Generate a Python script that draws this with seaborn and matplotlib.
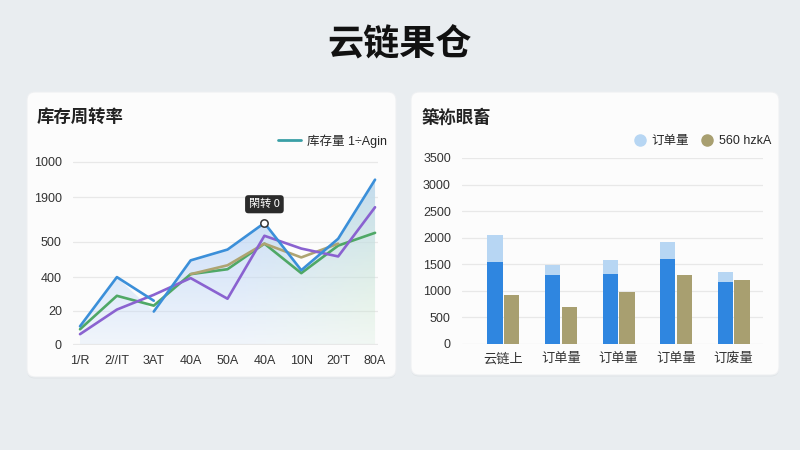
import numpy as np
import pandas as pd
import matplotlib
matplotlib.use("Agg")
import matplotlib.pyplot as plt
import seaborn as sns
from matplotlib.patches import FancyBboxPatch, Polygon
from matplotlib.lines import Line2D

# ---------------- data ----------------
title_text = "云链果仓"
left_title = "库存周转率"
right_title = "築袮眼畜"

x_labels = ["1/R", "2//IT", "3AT", "40A", "50A", "40A", "10N", "20'T", "80A"]
y_tick_pos = [0, 34, 68, 104, 149, 185]
y_tick_labels = ["0", "20", "400", "500", "1900", "1000"]

blue_a = [18, 68, 44]                          # indices 0..2
blue_b = [33, 85, 96, 123, 75, 107, 167]       # indices 2..8
green = [15, 49, 39, 71, 76, 102, 72, 100, 113]
olive = [71, 80, 102, 88, 102]                 # indices 3..7
purple = [10, 35, 50, 67, 46, 110, 97, 89, 139]
left_legend = "库存量 1÷Agin"
tooltip_text = "閑转 0"

bar_cats = ["云链上", "订单量", "订单量", "订单量", "订废量"]
bar_base = [1540, 1300, 1320, 1600, 1160]
bar_total = [2050, 1480, 1580, 1920, 1360]
bar_olive = [930, 700, 970, 1300, 1210]
right_legend = ["订单量", "560 hzkA"]

# ---------------- style ----------------
sns.set_theme(style="whitegrid")
LATIN = ["Liberation Sans", "Noto Sans CJK SC", "DejaVu Sans"]
CJK = ["Noto Sans CJK SC", "DejaVu Sans"]
plt.rcParams["font.family"] = LATIN

BG = "#e9edf0"
C_BLUE = "#3b8fd9"
C_GREEN = "#4fa866"
C_OLIVE = "#aea472"
C_PURPLE = "#8a62d0"
C_BAR = "#2f86e0"
C_BAR_LIGHT = "#b7d6f3"
C_BAR_OLIVE = "#a89f70"
C_TEXT = "#222222"

fig = plt.figure(figsize=(8, 4.5), dpi=100, facecolor=BG)

bg = fig.add_axes([0, 0, 1, 1], zorder=-5)
bg.set_xlim(0, 800)
bg.set_ylim(450, 0)
bg.axis("off")

for (x0, y0, x1, y1) in [(27, 92, 396, 377), (411, 92, 779, 375)]:
    sh = FancyBboxPatch((x0, y0 + 1.5), x1 - x0, y1 - y0,
                        boxstyle="round,pad=0,rounding_size=8",
                        fc="#d9dee2", ec="none", alpha=0.6)
    bg.add_patch(sh)
    card = FancyBboxPatch((x0, y0), x1 - x0, y1 - y0,
                          boxstyle="round,pad=0,rounding_size=8",
                          fc="#fcfcfc", ec="#eef0f2", lw=0.8)
    bg.add_patch(card)

fig.text(0.5, 1 - 45 / 450, title_text, ha="center", va="center",
         fontsize=26, fontweight="heavy", color="#111111", family=CJK)
fig.text(37 / 800, 1 - 117 / 450, left_title, ha="left", va="center",
         fontsize=12.5, fontweight="bold", color=C_TEXT, family=CJK)
fig.text(422 / 800, 1 - 118 / 450, right_title, ha="left", va="center",
         fontsize=12.5, fontweight="bold", color=C_TEXT, family=CJK)

# ---------------- left chart ----------------
axL = fig.add_axes([73 / 800, (450 - 345) / 450, 305 / 800, 185 / 450])
axL.set_facecolor("none")
n = len(x_labels)
idx = np.arange(n)

# gradient fill under the blue line
fill_y = blue_a[:2] + blue_b
xmin, xmax = -0.19, 8.08
grad_h, grad_w = 200, 300
yy = np.linspace(1, 0, grad_h)[:, None]
xx = np.linspace(0, 1, grad_w)[None, :]
blue_c = np.array([0.76, 0.85, 0.97])
green_c = np.array([0.78, 0.90, 0.81])
mix = np.clip((xx - 0.55) / 0.45, 0, 1) * np.clip(1.2 - yy, 0, 1)
rgb = blue_c[None, None, :] * (1 - mix[..., None]) + green_c[None, None, :] * mix[..., None]
rgb = np.broadcast_to(rgb, (grad_h, grad_w, 3))
alpha = (0.2 + 0.8 * yy) * np.ones_like(xx)
img = np.dstack([rgb, alpha])
im = axL.imshow(img, extent=[0, n - 1, 0, max(fill_y)], aspect="auto",
                origin="upper", zorder=1, interpolation="bilinear")
poly_pts = [(0, 0)] + list(zip(idx, fill_y)) + [(n - 1, 0)]
clip = Polygon(poly_pts, closed=True, transform=axL.transData, fc="none", ec="none")
axL.add_patch(clip)
im.set_clip_path(clip)

lw = 1.9
sns.lineplot(x=idx, y=green, ax=axL, color=C_GREEN, lw=lw, zorder=3)
sns.lineplot(x=idx[3:8], y=olive, ax=axL, color=C_OLIVE, lw=lw, zorder=3)
sns.lineplot(x=idx, y=purple, ax=axL, color=C_PURPLE, lw=lw, zorder=4)
sns.lineplot(x=idx[:3], y=blue_a, ax=axL, color=C_BLUE, lw=lw, zorder=5)
sns.lineplot(x=idx[2:], y=blue_b, ax=axL, color=C_BLUE, lw=lw, zorder=5)

peak_i = 5
axL.scatter([peak_i], [blue_b[peak_i - 2]], s=28, facecolor="white",
            edgecolor="#333333", linewidth=1.1, zorder=7)
axL.annotate(tooltip_text, xy=(peak_i, blue_b[peak_i - 2]), xytext=(0, 13.5),
             textcoords="offset points", ha="center", va="center",
             fontsize=8, color="white", zorder=8, family=CJK,
             bbox=dict(boxstyle="round,pad=0.35,rounding_size=0.3",
                       fc="#2b2b2b", ec="none"))

axL.set_xlim(xmin, xmax)
axL.set_ylim(-1, 187)
axL.set_xticks(idx)
axL.set_xticklabels(x_labels)
axL.set_yticks(y_tick_pos)
axL.set_yticklabels(y_tick_labels)
axL.tick_params(axis="both", length=0, labelsize=9, colors="#333333")
axL.tick_params(axis="x", pad=7)
axL.tick_params(axis="y", pad=8)
axL.grid(axis="x", visible=False)
axL.grid(axis="y", color="#e8e8e8", lw=0.9)
for s in axL.spines.values():
    s.set_visible(False)
axL.set_xlabel("")
axL.set_ylabel("")

fig.legend(handles=[Line2D([0], [0], color="#3a9fa6", lw=2)], labels=[left_legend],
           loc="center right", bbox_to_anchor=(392 / 800, 1 - 141 / 450),
           frameon=False, fontsize=9, handlelength=1.8, handletextpad=0.5,
           borderaxespad=0)

# ---------------- right chart ----------------
axR = fig.add_axes([462 / 800, (450 - 344) / 450, 301 / 800, 186 / 450])
axR.set_facecolor("none")
keys = [str(i) for i in range(len(bar_cats))]
df_tot = pd.DataFrame({
    "cat": keys * 2,
    "series": ["a"] * len(keys) + ["b"] * len(keys),
    "val": bar_total + bar_olive,
})
df_base = pd.DataFrame({
    "cat": keys * 2,
    "series": ["a"] * len(keys) + ["b"] * len(keys),
    "val": bar_base + [np.nan] * len(keys),
})
sns.barplot(data=df_tot, x="cat", y="val", hue="series", order=keys,
            hue_order=["a", "b"], palette={"a": C_BAR_LIGHT, "b": C_BAR_OLIVE},
            dodge=True, width=0.58, gap=0.08, errorbar=None, ax=axR,
            legend=False, saturation=1, linewidth=0, zorder=2)
sns.barplot(data=df_base, x="cat", y="val", hue="series", order=keys,
            hue_order=["a", "b"], palette={"a": C_BAR, "b": C_BAR_OLIVE},
            dodge=True, width=0.58, gap=0.08, errorbar=None, ax=axR,
            legend=False, saturation=1, linewidth=0, zorder=3)
axR.set_xlim(-0.72, 4.51)
axR.set_ylim(0, 3500)
axR.set_yticks(np.arange(0, 3501, 500))
axR.set_xticks(range(len(bar_cats)))
axR.set_xticklabels(bar_cats, family=CJK)
axR.tick_params(axis="both", length=0, labelsize=9, colors="#333333")
axR.tick_params(axis="x", pad=6, labelsize=9.5)
axR.tick_params(axis="y", pad=8)
axR.grid(axis="x", visible=False)
axR.grid(axis="y", color="#e8e8e8", lw=0.9)
axR.set_axisbelow(True)
for s in axR.spines.values():
    s.set_visible(False)
axR.set_xlabel("")
axR.set_ylabel("")

fig.legend(handles=[Line2D([0], [0], marker="o", ls="none", ms=8, color=C_BAR_LIGHT),
                    Line2D([0], [0], marker="o", ls="none", ms=8, color=C_BAR_OLIVE)],
           labels=right_legend, ncol=2, loc="center right",
           bbox_to_anchor=(776 / 800, 1 - 141 / 450), frameon=False,
           fontsize=9, handlelength=1.0, handletextpad=0.4, columnspacing=1.0,
           borderaxespad=0)

fig.savefig("out.png", dpi=100, facecolor=BG)
